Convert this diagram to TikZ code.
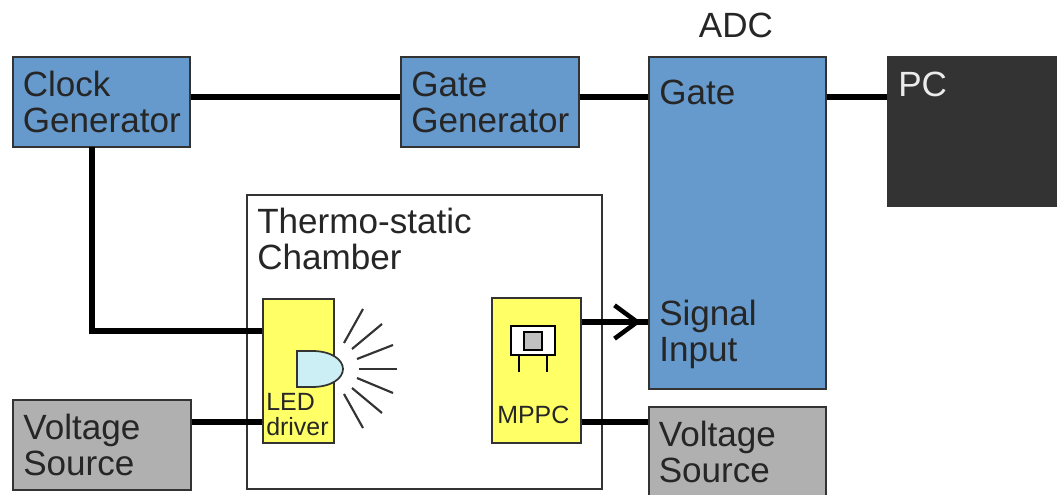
\documentclass[tikz,border=0pt]{standalone}
\usepackage{fontspec}
\usepackage{tikz}
\usetikzlibrary{arrows.meta}
\setmainfont{Liberation Sans}
\definecolor{boxblue}{HTML}{6699CC}
\definecolor{boxgrey}{HTML}{B0B0B0}
\definecolor{boxyellow}{HTML}{FFFF66}
\definecolor{pcblack}{HTML}{333333}
\definecolor{ledblue}{HTML}{CCEEF5}
\definecolor{edgegrey}{HTML}{333333}
\tikzset{
    block/.style={shape=rectangle,draw=edgegrey,line width=1.3pt,inner xsep=7.5pt,inner ysep=0pt,
        text width=118pt,align=left,minimum height=67.5pt,
        font=\fontsize{26.3}{27}\selectfont,text=black!85},
    label/.style={inner sep=0pt,align=left,font=\fontsize{26.3}{27}\selectfont,text=black!85},
    small/.style={inner sep=0pt,align=left,font=\fontsize{18.7}{18.5}\selectfont,text=black!85},
    conn/.style={line width=4.3pt,black},
    ray/.style={line width=1.6pt,black!80},
}
\begin{document}
\begin{tikzpicture}[x=0.75pt,y=-0.75pt]
    \clip (0,0) rectangle (1057,495);
    \fill[white] (0,0) rectangle (1057,495);

    \node[block,fill=boxblue] (Clock) at (101.5,102) {Clock\\Generator};
    \node[block,fill=boxblue] (GateGen) at (490,102) {Gate\\Generator};
    \node[block,fill=boxgrey] (VoltLeft) at (102,445) {Voltage\\Source};
    \node[block,fill=boxgrey] (VoltRight) at (737.5,452) {Voltage\\Source};
    \node[shape=rectangle,draw=edgegrey,line width=1.3pt,fill=boxblue,minimum width=132.5pt,minimum height=249pt] (ADC) at (737.5,223) {};
    \node[shape=rectangle,draw=edgegrey,line width=1.3pt,fill=pcblack,minimum width=130pt,minimum height=112pt] (PC) at (975,131.5) {};
    \node[shape=rectangle,draw=edgegrey,line width=1.3pt,fill=white,minimum width=266pt,minimum height=220pt] (Chamber) at (424.5,342) {};
    \node[shape=rectangle,draw=edgegrey,line width=1.3pt,fill=boxyellow,minimum width=53pt,minimum height=108pt] (LED) at (298.5,371) {};
    \node[shape=rectangle,draw=edgegrey,line width=1.3pt,fill=boxyellow,minimum width=66.5pt,minimum height=108.5pt] (MPPC) at (536.5,370.5) {};

    \node[label,anchor=center] (ADClabel) at (736,25) {ADC};
    \node[label,anchor=west] (Gatelabel) at (659,92) {Gate};
    \node[label,anchor=west] (Signallabel) at (659,334) {Signal\\Input};
    \node[label,anchor=west,text=white!92!black] (PClabel) at (898,84) {PC};
    \node[label,anchor=west] (Chamberlabel) at (257,239) {Thermo-static\\Chamber};
    \node[small,anchor=west,yshift=-0.5pt] (LEDlabel) at (266,414) {LED\\driver};
    \node[small,anchor=west] (MPPClabel) at (497,415) {MPPC};

    \coordinate (TopLine) at (0,97);
    \coordinate (ClockLine) at (0,331);
    \coordinate (SignalLine) at (0,322);
    \coordinate (VoltLine) at (0,422);
    \coordinate (SignalTip) at (641,322);
    \coordinate (ClockDrop) at (92,147);

    % connectors
    \draw[conn] (Clock.east |- TopLine) -- (GateGen.west |- TopLine);
    \draw[conn] (GateGen.east |- TopLine) -- (ADC.west |- TopLine);
    \draw[conn] (ADC.east |- TopLine) -- (PC.west |- TopLine);
    \draw[conn] (ClockDrop) -- (ClockDrop |- ClockLine) -- (LED.west |- ClockLine);
    \draw[conn] (VoltLeft.east |- VoltLine) -- (LED.west |- VoltLine);
    \draw[conn] (MPPC.east |- VoltLine) -- (VoltRight.west |- VoltLine);
    \draw[conn] (MPPC.east |- SignalLine) -- (ADC.west |- SignalLine);
    \draw[conn,-{Straight Barb[length=17pt,width=25pt,line width=3.4pt]}] (MPPC.east |- SignalLine) -- (SignalTip);

    % LED
    \draw[line width=1.3pt,draw=edgegrey,fill=ledblue] (297,351) -- (312,351) .. controls (332,351) and (343,360) .. (343,369) .. controls (343,378) and (332,387) .. (312,387) -- (297,387) -- cycle;
    \foreach \xa/\ya/\xb/\yb in {344/343/363/309,352/349/382/324,357/359/393/345,359/369/397/369,357/378/393/393,352/388/382/413,344/394/363/428}
        \draw[ray] (\xa,\ya) -- (\xb,\yb);

    % MPPC package
    \draw[line width=1.3pt,fill=white] (511,326) rectangle (555,355);
    \draw[line width=1.3pt,fill=boxgrey!80] (524,332) rectangle (542,350);
    \draw[line width=1pt] (519,355) -- (519,372);
    \draw[line width=1pt] (547,355) -- (547,372);
\end{tikzpicture}
\end{document}
